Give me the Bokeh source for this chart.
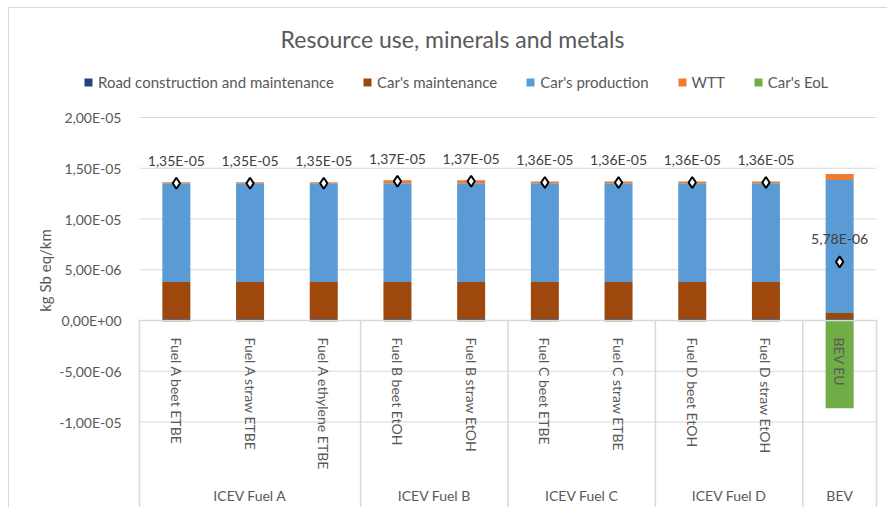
import math

from bokeh.plotting import figure
from bokeh.models import (ColumnDataSource, Range1d, FixedTicker, Legend,
                          LegendItem, Label)
from bokeh.core.properties import value
from bokeh.embed import file_html
from bokeh.resources import INLINE

# ---- data -----------------------------------------------------------------
groups = ["ICEV Fuel A", "ICEV Fuel B", "ICEV Fuel C", "ICEV Fuel D", "BEV"]
group_sizes = [3, 2, 2, 2, 1]
categories = [
    "Fuel A beet ETBE", "Fuel A straw ETBE", "Fuel A ethylene ETBE",
    "Fuel B beet EtOH", "Fuel B straw EtOH",
    "Fuel C beet ETBE", "Fuel C straw ETBE",
    "Fuel D beet EtOH", "Fuel D straw EtOH",
    "BEV EU",
]

# contributions in 1e-6 kg Sb eq/km
road_construction = [0.15, 0.15, 0.15, 0.15, 0.15, 0.15, 0.15, 0.15, 0.15, 0.15]
car_maintenance = [3.65, 3.65, 3.65, 3.65, 3.65, 3.65, 3.65, 3.65, 3.65, 0.60]
car_production = [9.72, 9.72, 9.72, 9.72, 9.72, 9.72, 9.72, 9.72, 9.72, 13.10]
wtt = [0.10, 0.10, 0.10, 0.30, 0.30, 0.18, 0.18, 0.18, 0.18, 0.58]
car_eol = [-0.10, -0.10, -0.10, -0.10, -0.10, -0.10, -0.10, -0.10, -0.10, -8.65]

series_names = ["Road construction and maintenance", "Car's maintenance",
                "Car's production", "WTT", "Car's EoL"]
series_colors = ["#264478", "#9E480E", "#5B9BD5", "#ED7D31", "#70AD47"]

y_ticks = [-10, -5, 0, 5, 10, 15, 20]
y_tick_labels = ["-1,00E-05", "-5,00E-06", "0,00E+00", "5,00E-06",
                 "1,00E-05", "1,50E-05", "2,00E-05"]

title_text = "Resource use, minerals and metals"
y_label = "kg Sb eq/km"

# ---- derived columns --------------------------------------------------------
n = len(categories)
xs = [i + 0.5 for i in range(n)]
totals = [a + b + c + d + e for a, b, c, d, e in
          zip(road_construction, car_maintenance, car_production, wtt, car_eol)]
total_labels = [f"{t * 1e-6:.2E}".replace(".", ",") for t in totals]

bounds = [0]
for s in group_sizes:
    bounds.append(bounds[-1] + s)
group_centers = [(a + b) / 2 for a, b in zip(bounds[:-1], bounds[1:])]

source = ColumnDataSource(dict(
    x=xs, cat=categories, road=road_construction, maint=car_maintenance,
    prod=car_production, wtt=wtt, eol=car_eol, total=totals, total_label=total_labels,
))

FONT = "Lato"
GREY = "#595959"
GRID = "#D9D9D9"

# ---- layout constants (pixels) -------------------------------------------
W, H = 879, 500
PLOT_LEFT, PLOT_RIGHT = 130, 12      # room for the value axis / right margin
SLOT = (W - PLOT_LEFT - PLOT_RIGHT) / n
ZERO_PX = 312                        # distance of zero line from the top
UNIT_PX = 10.15                      # pixels per 1e-6

x_range = Range1d(-PLOT_LEFT / SLOT, n + PLOT_RIGHT / SLOT)
y_range = Range1d(-(H - ZERO_PX) / UNIT_PX, ZERO_PX / UNIT_PX)

p = figure(width=W, height=H, output_backend="svg", toolbar_location=None,
           title=None, x_range=x_range, y_range=y_range, x_axis_location=None,
           min_border_left=0, min_border_right=0, min_border_top=0, min_border_bottom=0)
p.margin = (7, 0, 0, 8)
p.styles = {"border-top": f"1px solid {GRID}", "border-left": f"1px solid {GRID}"}
p.outline_line_color = None
p.background_fill_color = "white"
p.border_fill_color = "white"
p.grid.visible = False

# value axis, drawn at the left edge of the category area
yax = p.yaxis[0]
yax.fixed_location = 0
yax.ticker = FixedTicker(ticks=y_ticks)
yax.major_label_overrides = dict(zip(y_ticks, y_tick_labels))
yax.axis_line_color = None
yax.major_tick_line_color = None
yax.minor_tick_line_color = None
yax.major_label_standoff = 12
yax.major_label_text_font = FONT
yax.major_label_text_font_size = "14px"
yax.major_label_text_color = GREY

# horizontal gridlines across the category area
p.segment(x0=[0] * len(y_ticks), x1=[n] * len(y_ticks), y0=y_ticks, y1=y_ticks,
          line_color=GRID, line_width=1.2)

# group separators on the category axis
p.segment(x0=bounds, x1=bounds, y0=[0] * len(bounds),
          y1=[y_range.start] * len(bounds), line_color=GRID, line_width=1.5)

# stacked positive contributions
stack_renderers = p.vbar_stack(["road", "maint", "prod", "wtt"], x="x", width=0.38,
                               color=series_colors[:4], line_color=None, source=source)
# end-of-life credit below zero
eol_renderer = p.vbar(x="x", top="eol", bottom=0, width=0.38, fill_color=series_colors[4],
                      line_color=None, source=source)

# category axis line at zero
p.segment(x0=[0], x1=[n], y0=[0], y1=[0], line_color=GRID, line_width=1.5)

# category labels (rotated) and group labels
p.text(x="x", y=0, text="cat", source=source, angle=-math.pi / 2,
       text_align="left", text_baseline="middle", y_offset=17,
       text_font=value(FONT), text_font_size="14px", text_color=GREY)
p.text(x=group_centers, y=[y_range.start] * len(groups), text=groups,
       text_align="center", text_baseline="middle", y_offset=-13,
       text_font=value(FONT), text_font_size="14px", text_color=GREY)

# totals
p.scatter(x="x", y="total", source=source, marker="diamond", size=11,
          fill_color="white", line_color="black", line_width=2)
p.text(x="x", y="total", text="total_label", source=source,
       text_align="center", text_baseline="middle", y_offset=-23,
       text_font=value(FONT), text_font_size="14px", text_color="#404040")

# legend
legend_items = [LegendItem(label=name, renderers=[r]) for name, r in
                zip(series_names, list(stack_renderers) + [eol_renderer])]
legend = Legend(items=legend_items, orientation="horizontal", location=(74, 417),
                glyph_width=10, glyph_height=10, label_standoff=5, spacing=28,
                padding=0, margin=0, border_line_color=None, background_fill_alpha=0,
                label_text_font=FONT, label_text_font_size="15px",
                label_text_color=GREY, label_height=17)
p.add_layout(legend)

# value axis title
p.add_layout(Label(x=35, y=238, x_units="screen", y_units="screen", text=y_label,
                   angle=math.pi / 2, text_align="center", text_baseline="middle",
                   text_font=FONT, text_font_size="15px", text_color=GREY))

# chart title
p.add_layout(Label(x=443, y=470, x_units="screen", y_units="screen", text=title_text,
                   text_align="center", text_baseline="middle", text_font=FONT,
                   text_font_size="23px", text_color=GREY))

open("out.html", "w").write(file_html(p, INLINE))
